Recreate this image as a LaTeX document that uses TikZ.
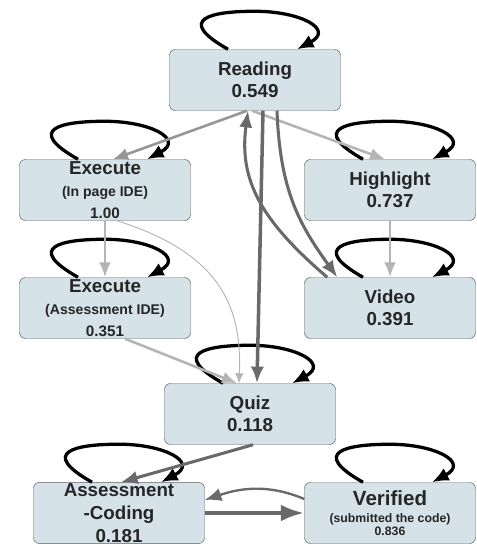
\documentclass[tikz,border=0pt]{standalone}
\usepackage{fontspec}
\setmainfont{Liberation Sans}
\usepackage{tikz}
\usetikzlibrary{arrows.meta,positioning,calc}
\definecolor{boxfill}{RGB}{213,226,231}
\definecolor{boxline}{RGB}{90,95,98}
\definecolor{darkedge}{RGB}{105,105,105}
\definecolor{midedge}{RGB}{150,150,150}
\definecolor{lightedge}{RGB}{180,180,180}
\newcommand{\titlefont}{\fontsize{16}{18.5}\selectfont\bfseries}
\newcommand{\subfont}{\fontsize{12}{14}\selectfont}
\newcommand{\numfont}{\fontsize{13}{15}\selectfont}
\newcommand{\tinyfont}{\fontsize{10.5}{12}\selectfont}

\begin{document}
\begin{tikzpicture}[x=0.03cm,y=-0.03cm,
    box/.style={draw=boxline,thin,rounded corners=5pt,align=center,
      minimum width=5.13cm,minimum height=1.83cm,inner sep=1pt,
      fill=boxfill,font=\titlefont,text=black!85},
    loopy/.style={line width=2.8pt,-{Latex[length=5mm,width=4.2mm]}},
    darr/.style={draw=darkedge,line width=2.6pt,
      -{Latex[length=5mm,width=4mm]}},
    marr/.style={draw=midedge,line width=2.2pt,
      -{Latex[length=4.5mm,width=3.6mm]}},
    larr/.style={draw=lightedge,line width=2.2pt,
      -{Latex[length=4.5mm,width=3.6mm]}}
  ]
    \useasboundingbox (0,0) rectangle (477,548);
    % states
    \node[box] (read) at (255,80) {Reading\\0.549};
    \node[box] (exec) at (105,190) {Execute\\{\subfont (In page IDE)}\\{\numfont 1.00}};
    \node[box] (high) at (390,190) {Highlight\\0.737};
    \node[box] (aexec) at (105,308) {Execute\\{\subfont (Assessment IDE)}\\{\numfont 0.351}};
    \node[box] (video) at (390,308) {Video\\0.391};
    \node[box] (quiz) at (250,414) {Quiz\\0.118};
    \node[box] (acode) at (119,513) {Assessment\\[1pt]-Coding\\[1pt]0.181};
    \node[box] (verif) at (390,513) {{\fontsize{17.5}{18}\selectfont Verified}\\[-4pt]{\tinyfont (submitted the code)}\\[-7pt]{\tinyfont 0.836}};
    % self transitions
    \foreach \n in {read,exec,high,aexec,video,quiz,acode,verif}
      \draw[loopy] ($(\n.north)+(-27,0)$) .. controls +(-53,-30) and +(-45,0) .. ($(\n.north)+(0,-38)$)
        .. controls +(45,0) and +(38,-20) .. ($(\n.north)+(42,0)$);
    % transitions
    \draw[marr] ($(read.south)+(-8,0)$) -- ($(exec.north)+(8,0)$);
    \draw[larr] ($(read.south)+(-3,0)$) -- ($(high.north)+(-5,0)$);
    \draw[darr,line width=3pt] ($(read.south)+(8,0)$) -- ($(quiz.north)+(7,0)$);
    \draw[darr] ($(read.south)+(22,0)$) .. controls +(3,80) and +(-38,-53) .. ($(video.north west)+(33,0)$);
    \draw[darr] ($(video.north west)+(23,0)$) .. controls +(-68,-58) and +(-9,68) .. ($(read.south)+(-7,0)$);
    \draw[larr] (high) -- (video);
    \draw[larr] (exec) -- (aexec);
    \draw[draw=lightedge,line width=0.8pt,-{Latex[length=3mm,width=2.5mm]}]
      ($(exec.south)+(12,0)$) .. controls +(105,33) and +(3,-75) .. ($(quiz.north)+(-11,0)$);
    \draw[larr] ($(aexec.south)+(20,0)$) -- ($(quiz.north)+(-13,0)$);
    \draw[darr] ($(quiz.south)+(3,0)$) -- ($(acode.north)+(2,0)$);
    \draw[darr,line width=3.5pt,-{Latex[length=7mm,width=5mm]}] (acode.east) -- (verif.west);
    \draw[darr,line width=2pt] ($(verif.west)+(0,-14)$) .. controls +(-40,-17) and +(30,-10) .. ($(acode.east)+(0,-13)$);
  \end{tikzpicture}
\end{document}
